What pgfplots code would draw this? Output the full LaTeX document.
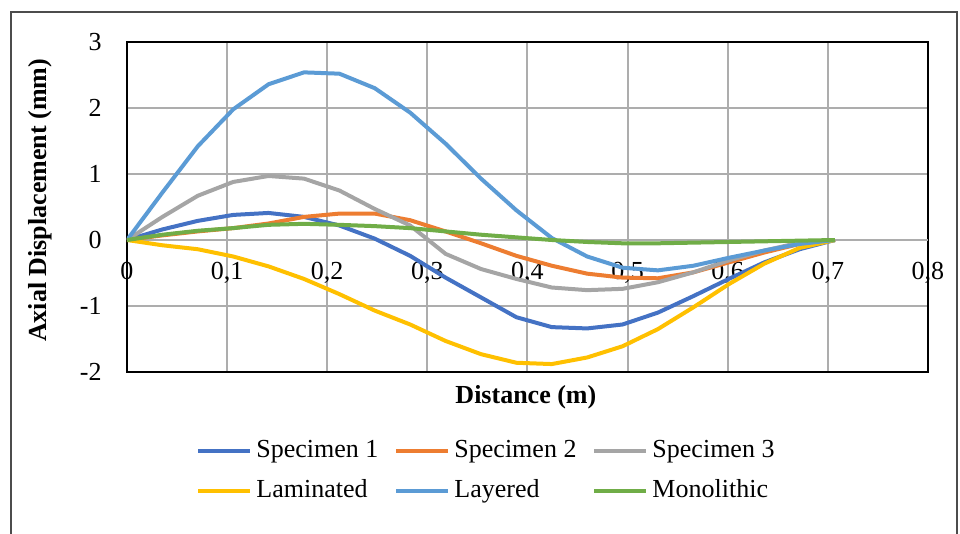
\documentclass[border=0pt]{standalone}
\usepackage{fontspec}
\setmainfont{Liberation Serif}
\usepackage{pgfplots}
\pgfplotsset{compat=1.18}
\usepackage{pgfplotstable}
\usetikzlibrary{calc}

\definecolor{spA}{HTML}{4472C4}
\definecolor{spB}{HTML}{ED7D31}
\definecolor{spC}{HTML}{A5A5A5}
\definecolor{lam}{HTML}{FFC000}
\definecolor{lay}{HTML}{5B9BD5}
\definecolor{mono}{HTML}{70AD47}

% axial displacement (mm) along the member, x in m
\pgfplotstableread{
x       s1     s2     s3     lam    lay    mono
0.0000  0      0      0      0      0      0
0.0354  0.16   0.07   0.35  -0.08   0.72   0.08
0.0707  0.29   0.13   0.67  -0.14   1.42   0.14
0.1061  0.38   0.18   0.88  -0.25   1.98   0.18
0.1414  0.41   0.25   0.97  -0.40   2.36   0.23
0.1768  0.35   0.35   0.93  -0.59   2.54   0.245
0.2121  0.22   0.40   0.75  -0.82   2.52   0.23
0.2475  0.02   0.40   0.47  -1.07   2.30   0.21
0.2828 -0.24   0.30   0.22  -1.28   1.93   0.18
0.3182 -0.57   0.13  -0.21  -1.53   1.46   0.13
0.3536 -0.87  -0.05  -0.44  -1.73   0.93   0.08
0.3889 -1.17  -0.24  -0.59  -1.86   0.45   0.04
0.4243 -1.32  -0.39  -0.72  -1.88   0.03   0.00
0.4596 -1.34  -0.51  -0.76  -1.78  -0.25  -0.03
0.4950 -1.28  -0.57  -0.74  -1.61  -0.42  -0.05
0.5303 -1.10  -0.58  -0.64  -1.35  -0.46  -0.05
0.5657 -0.85  -0.49  -0.49  -1.02  -0.39  -0.04
0.6010 -0.59  -0.34  -0.31  -0.67  -0.27  -0.03
0.6364 -0.34  -0.19  -0.16  -0.36  -0.16  -0.02
0.6718 -0.14  -0.06  -0.04  -0.12  -0.06  -0.01
0.7071  0      0      0      0      0      0
}\disp

\begin{document}
\fontsize{13}{15.6}\selectfont
\begin{tikzpicture}[x=1pt,y=1pt]
\begin{axis}[
  scale only axis, width=400.5pt, height=165pt,
  xmin=0, xmax=0.8, ymin=-2, ymax=3,
  xtick={0,0.1,0.2,0.3,0.4,0.5,0.6,0.7,0.8},
  ytick={-2,-1,0,1,2,3},
  /pgf/number format/.cd, use comma, fixed, assume math mode=true, /pgfplots/.cd,
  grid=major,
  major grid style={color=black!32, line width=1pt},
  axis line style={black, line width=1pt},
  major tick length=0pt,
  extra y ticks={0}, extra y tick labels={},
  extra y tick style={grid style={black, line width=1pt}},
  xticklabel style={yshift=59.35pt},
  yticklabel style={xshift=-8.2pt},
  xlabel={Distance (m)},
  ylabel={Axial Displacement (mm)},
  label style={font=\bfseries},
  xlabel style={at={(axis description cs:0.498,-0.076)}, anchor=center},
  ylabel style={at={(axis description cs:-0.1086,0.52)}, anchor=center},
  legend columns=3,
  legend cell align=left,
  legend style={draw=none, fill=none, at={(axis description cs:0.0787,-0.182)}, anchor=north west,
    row sep=5pt, /tikz/every even column/.append style={column sep=6pt}},
  legend image code/.code={\draw[#1] (0pt,0pt) -- (26pt,0pt);},
  every axis plot/.append style={line width=2pt, line join=round},
]
\coordinate (sw) at (rel axis cs:0,0);
\addplot[spA] table[x=x, y=s1] {\disp};
\addlegendentry{Specimen 1}
\addplot[spB] table[x=x, y=s2] {\disp};
\addlegendentry{Specimen 2}
\addplot[spC] table[x=x, y=s3] {\disp};
\addlegendentry{Specimen 3}
\addplot[lam] table[x=x, y=lam] {\disp};
\addlegendentry{Laminated}
\addplot[lay] table[x=x, y=lay] {\disp};
\addlegendentry{Layered}
\addplot[mono] table[x=x, y=mono] {\disp};
\addlegendentry{Monolithic}
\end{axis}
\pgfresetboundingbox
\path[use as bounding box] ($(sw)+(-63.5,-81)$) rectangle ($(sw)+(416.5,186)$);
% outer chart frame
\draw[black!70, line width=1pt] ($(sw)+(-58,-91)$) -- ($(sw)+(-58,180)$) -- ($(sw)+(415,180)$) -- ($(sw)+(415,-91)$);
\end{tikzpicture}
\end{document}
